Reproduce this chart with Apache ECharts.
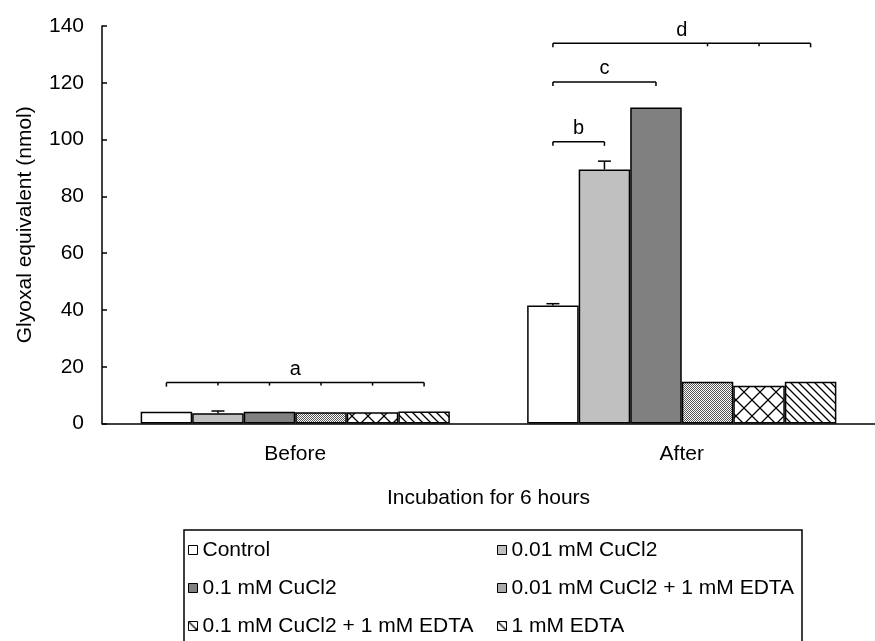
<!DOCTYPE html>
<html><head><meta charset="utf-8">
<script src="https://cdn.jsdelivr.net/npm/echarts@6/dist/echarts.min.js"></script>
<style>html,body{margin:0;padding:0;background:#fff}#c{width:875px;height:641px}</style>
</head><body><div id="c"></div>
<script>
// ---- data ----
const categories = ['Before', 'After'];
const seriesNames = ['Control', '0.01 mM CuCl2', '0.1 mM CuCl2', '0.01 mM CuCl2 + 1 mM EDTA', '0.1 mM CuCl2 + 1 mM EDTA', '1 mM EDTA'];
const control = [4.1, 41.6];
const cu001 = [3.6, 89.5];
const cu01 = [4.1, 111.3];
const cu001Edta = [4.0, 14.7];
const cu01Edta = [4.0, 13.3];
const edta = [4.2, 14.7];
const yMin = 0, yMax = 140, yStep = 20;
// error bars: [categoryIndex, seriesIndex, mean, error]
const errorBars = [[0, 1, 3.6, 0.8], [1, 0, 41.6, 0.6], [1, 1, 89.5, 2.9]];
// significance brackets
const bracketCat = [0, 1, 1, 1];
const bracketFrom = [0, 0, 0, 0];
const bracketTo = [5, 1, 2, 5];
const bracketY = [14.4, 99.2, 120.3, 133.9];
const bracketText = ['a', 'b', 'c', 'd'];
const bracketTicks = [[1, 2, 3, 4], [], [], [3, 4]];

// ---- patterns ----
function mk(w, h, draw) { const c = document.createElement('canvas'); c.width = w; c.height = h; const g = c.getContext('2d'); g.fillStyle = '#fff'; g.fillRect(0, 0, w, h); draw(g); return { image: c, repeat: 'repeat' }; }
const dotPat = mk(2, 2, g => { g.fillStyle = '#555'; g.fillRect(0, 0, 1, 1); g.fillRect(1, 1, 1, 1); });
const crossPat = mk(16, 16, g => { g.strokeStyle = '#000'; g.lineWidth = 1.3; g.beginPath(); g.moveTo(-1, -1); g.lineTo(17, 17); g.moveTo(17, -1); g.lineTo(-1, 17); g.stroke(); });
const hatchPat = mk(8, 8, g => { g.strokeStyle = '#000'; g.lineWidth = 1.3; g.beginPath(); g.moveTo(-1, -1); g.lineTo(9, 9); g.moveTo(-1, 7); g.lineTo(1, 9); g.moveTo(7, -1); g.lineTo(9, 1); g.stroke(); });

const fills = ['#ffffff', '#c0c0c0', '#808080', dotPat, crossPat, hatchPat];
const values = [control, cu001, cu01, cu001Edta, cu01Edta, edta];
const FONT = 'Liberation Sans, Arial, sans-serif';

function barCenter(api, cat, idx, y) {
  const p = api.coord([cat, y]);
  const band = api.size([1, 0])[0];
  const bw = band * 0.8 / 6;
  return [p[0] - band * 0.4 + (idx + 0.5) * bw, p[1]];
}
const lineStyle = { stroke: '#000', lineWidth: 1.5 };

const barSeries = seriesNames.map((n, i) => ({
  name: n, type: 'bar', data: values[i], barGap: '0%', barCategoryGap: '20%',
  itemStyle: { color: fills[i], borderColor: '#000', borderWidth: 1.5 },
  emphasis: { disabled: true }, silent: true
}));

const errSeries = {
  type: 'custom', silent: true, z: 5,
  data: errorBars.map(e => [e[0], e[2], e[1], e[3]]),
  encode: { x: 0, y: 1 },
  renderItem: (params, api) => {
    const cat = api.value(0), mean = api.value(1), idx = api.value(2), err = api.value(3);
    const b = barCenter(api, cat, idx, mean);
    const t = barCenter(api, cat, idx, mean + err);
    return { type: 'group', children: [
      { type: 'line', shape: { x1: b[0], y1: b[1], x2: t[0], y2: t[1] }, style: lineStyle },
      { type: 'line', shape: { x1: t[0] - 6.5, y1: t[1], x2: t[0] + 6.5, y2: t[1] }, style: lineStyle }
    ]};
  }
};

const bracketSeries = {
  type: 'custom', silent: true, z: 5,
  data: bracketY.map((y, i) => [bracketCat[i], y, i]),
  encode: { x: 0, y: 1 },
  renderItem: (params, api) => {
    const cat = api.value(0), y = api.value(1), k = api.value(2);
    const a = barCenter(api, cat, bracketFrom[k], y);
    const b = barCenter(api, cat, bracketTo[k], y);
    const ch = [
      { type: 'line', shape: { x1: a[0], y1: a[1], x2: b[0], y2: b[1] }, style: lineStyle },
      { type: 'line', shape: { x1: a[0], y1: a[1], x2: a[0], y2: a[1] + 4 }, style: lineStyle },
      { type: 'line', shape: { x1: b[0], y1: b[1], x2: b[0], y2: b[1] + 4 }, style: lineStyle }
    ];
    bracketTicks[k].forEach(t => {
      const p = barCenter(api, cat, t, y);
      ch.push({ type: 'line', shape: { x1: p[0], y1: p[1], x2: p[0], y2: p[1] + 3 }, style: lineStyle });
    });
    ch.push({ type: 'text', style: { text: bracketText[k], x: (a[0] + b[0]) / 2, y: a[1] - 13, align: 'center', verticalAlign: 'middle', fill: '#000', fontSize: 20, fontFamily: FONT } });
    return { type: 'group', children: ch };
  }
};

const legendBase = {
  orient: 'vertical', top: 539, itemWidth: 9, itemHeight: 9, itemGap: 16, icon: 'rect', padding: 0,
  selectedMode: false, itemStyle: { borderColor: '#000', borderWidth: 1 },
  textStyle: { fontSize: 21, lineHeight: 22, color: '#000', fontFamily: FONT }
};

const chart = echarts.init(document.getElementById('c'));
chart.setOption({
  animation: false,
  backgroundColor: '#fff',
  grid: { left: 102, right: -5, top: 26, bottom: 217.5, containLabel: false },
  xAxis: {
    type: 'category', data: categories,
    axisLine: { lineStyle: { color: '#000', width: 1.5 } },
    axisTick: { inside: true, length: 4, lineStyle: { color: '#000', width: 1.5 } },
    axisLabel: { fontSize: 21, color: '#000', margin: 20, fontFamily: FONT },
    name: 'Incubation for 6 hours', nameLocation: 'middle', nameGap: 64,
    nameTextStyle: { fontSize: 21, color: '#000', fontFamily: FONT }
  },
  yAxis: {
    type: 'value', min: yMin, max: yMax, interval: yStep,
    axisLine: { show: true, lineStyle: { color: '#000', width: 1.5 } },
    axisTick: { show: true, inside: true, length: 5, lineStyle: { color: '#000', width: 1.5 } },
    splitLine: { show: false },
    axisLabel: { fontSize: 21, color: '#000', margin: 18, fontFamily: FONT },
    name: 'Glyoxal equivalent (nmol)', nameLocation: 'middle', nameGap: 66,
    nameTextStyle: { fontSize: 21, color: '#000', fontFamily: FONT }
  },
  legend: [
    Object.assign({}, legendBase, { left: 188, data: [seriesNames[0], seriesNames[2], seriesNames[4]] }),
    Object.assign({}, legendBase, { left: 497, data: [seriesNames[1], seriesNames[3], seriesNames[5]] })
  ],
  graphic: [{ type: 'rect', shape: { x: 184, y: 530, width: 618, height: 140 }, style: { fill: 'none', stroke: '#000', lineWidth: 1.5 }, silent: true }],
  series: barSeries.concat([errSeries, bracketSeries])
});
</script></body></html>
